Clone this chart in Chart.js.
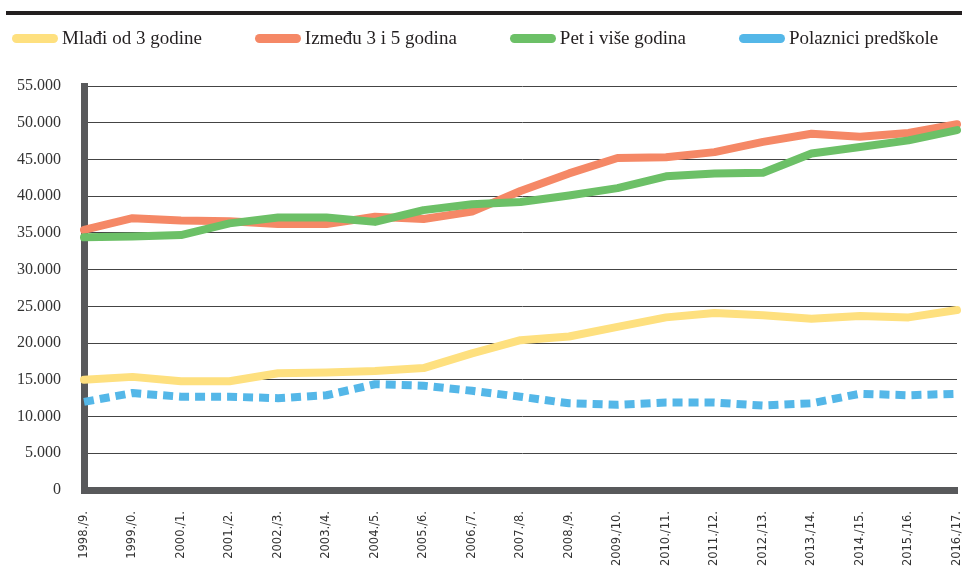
<!DOCTYPE html>
<html>
<head>
<meta charset="utf-8">
<script src="https://cdn.jsdelivr.net/npm/chart.js@4.4.0/dist/chart.umd.min.js"></script>
<style>
  body { margin: 0; background: #fff; }
  .wrap { position: relative; width: 962px; height: 579px; }
  .rule { position: absolute; left: 6px; right: 0; top: 11px; height: 4px; background: #231f20; }
  #legend { position: absolute; left: 12px; top: 27px; display: flex; gap: 53px; font-family: "Liberation Serif", serif; font-size: 19px; color: #231f20; }
  .item { display: flex; align-items: center; white-space: nowrap; }
  .swatch { width: 46px; height: 9px; border-radius: 5px; margin-right: 4px; }
  canvas { position: absolute; left: 0; top: 0; }
</style>
</head>
<body>
<div class="wrap">
  <canvas id="chart" width="962" height="579"></canvas>
  <div class="rule"></div>
  <div id="legend"></div>
</div>
<script>
// school years
const years = ["1998./9.", "1999./0.", "2000./1.", "2001./2.", "2002./3.", "2003./4.", "2004./5.",
  "2005./6.", "2006./7.", "2007./8.", "2008./9.", "2009./10.", "2010./11.", "2011./12.",
  "2012./13.", "2013./14.", "2014./15.", "2015./16.", "2016./17."];

const mladji = [15000, 15400, 14800, 14800, 15900, 16000, 16200, 16600, 18600, 20400,
  20900, 22200, 23500, 24100, 23800, 23300, 23700, 23500, 24500];
const izmedju = [35400, 37000, 36700, 36600, 36200, 36200, 37200, 36900, 37900, 40700,
  43100, 45200, 45300, 46000, 47400, 48500, 48100, 48600, 49800];
const petIVise = [34400, 34500, 34700, 36300, 37100, 37100, 36500, 38100, 38900, 39200,
  40100, 41100, 42700, 43100, 43200, 45800, 46700, 47600, 49000];
const polaznici = [12000, 13200, 12700, 12700, 12500, 12900, 14400, 14200, 13500, 12700,
  11800, 11600, 11900, 11900, 11500, 11800, 13100, 12900, 13100];

const formatThousands = (v) => String(v).replace(/\B(?=(\d{3})+(?!\d))/g, ".");

const ctx = document.getElementById("chart").getContext("2d");
const chart = new Chart(ctx, {
  type: "line",
  data: {
    labels: years,
    datasets: [
      { label: "Mlađi od 3 godine", data: mladji, borderColor: "#fee07f", order: 3 },
      { label: "Između 3 i 5 godina", data: izmedju, borderColor: "#f58866", order: 2 },
      { label: "Pet i više godina", data: petIVise, borderColor: "#6cc067", order: 1 },
      {
        label: "Polaznici predškole",
        data: polaznici,
        borderColor: "#54b7e8",
        borderDash: [10, 6],
        borderCapStyle: "butt",
        order: 0,
      },
    ],
  },
  options: {
    responsive: false,
    animation: false,
    layout: { padding: { top: 86, right: 5, left: 0, bottom: 0 } },
    plugins: {
      legend: { display: false },
      tooltip: { enabled: false },
    },
    elements: {
      point: { radius: 0 },
      line: { tension: 0, borderWidth: 8, borderCapStyle: "round", borderJoinStyle: "round" },
    },
    scales: {
      x: {
        grid: { display: false, drawTicks: false },
        border: { color: "#58595b", width: 7 },
        ticks: {
          autoSkip: false,
          maxRotation: 90,
          minRotation: 90,
          padding: 21,
          color: "#333",
          font: { family: "DejaVu Sans", size: 11.5 },
        },
        afterFit: (scale) => {
          scale.height = 89;
          scale.paddingLeft = 0;
          scale.paddingRight = 0;
        },
      },
      y: {
        min: 0,
        max: 55000,
        grid: { color: "#444", lineWidth: 1, drawTicks: false },
        border: { color: "#58595b", width: 7 },
        ticks: {
          stepSize: 5000,
          padding: 23,
          color: "#333",
          font: { family: "Liberation Serif", size: 16 },
          callback: (value) => formatThousands(value),
        },
        afterFit: (scale) => {
          scale.width = 84;
        },
      },
    },
  },
});

// html legend built from the datasets
const legendEl = document.getElementById("legend");
chart.data.datasets.forEach((ds) => {
  const item = document.createElement("div");
  item.className = "item";
  const sw = document.createElement("span");
  sw.className = "swatch";
  sw.style.background = ds.borderColor;
  const txt = document.createElement("span");
  txt.textContent = ds.label;
  item.appendChild(sw);
  item.appendChild(txt);
  legendEl.appendChild(item);
});
</script>
</body>
</html>
